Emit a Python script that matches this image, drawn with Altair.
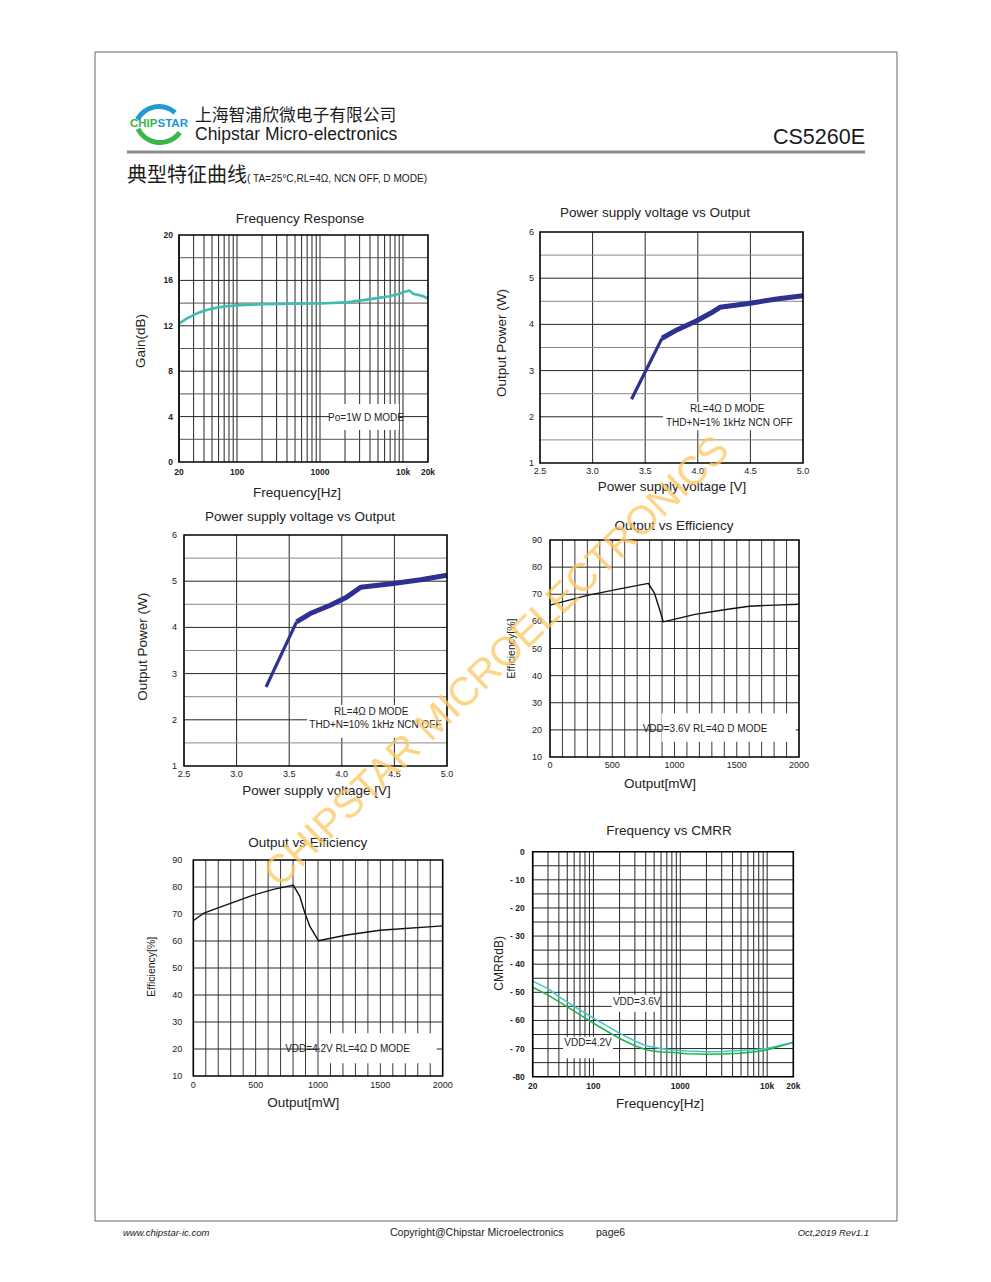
import altair as alt
import pandas as pd

M = 8  # page margin: page pixel -> chart pixel

# ---------------- data ----------------
# Frequency response (Po=1W D MODE)
fr_freq = [20, 25, 33, 43, 57, 75, 100, 200, 500, 1000, 2000, 3340, 4870, 6860, 8850, 10000, 12000, 13400, 15400, 17500, 20000]
fr_gain = [12.2, 12.65, 13.1, 13.4, 13.6, 13.72, 13.8, 13.9, 13.95, 13.97, 14.06, 14.26, 14.44, 14.6, 14.8, 14.95, 15.1, 14.8, 14.72, 14.6, 14.4]

# Power supply voltage vs output, THD+N=1%
psv1_v = [3.37, 3.66, 3.80, 3.99, 4.12, 4.21, 4.50, 4.75, 5.0]
psv1_p = [2.38, 3.70, 3.88, 4.08, 4.24, 4.37, 4.46, 4.55, 4.62]

# Power supply voltage vs output, THD+N=10%
psv10_v = [3.28, 3.57, 3.70, 3.89, 4.05, 4.18, 4.49, 4.75, 5.0]
psv10_p = [2.71, 4.12, 4.30, 4.48, 4.66, 4.87, 4.95, 5.03, 5.13]

# Output vs efficiency, VDD=3.6V
eff36_mw = [0, 300, 560, 790, 840, 880, 910, 1165, 1400, 1600, 1800, 2000]
eff36_pct = [66.0, 69.6, 72.0, 74.0, 70.3, 64.5, 59.8, 62.6, 64.3, 65.6, 66.0, 66.3]

# Output vs efficiency, VDD=4.2V
eff42_mw = [0, 80, 187, 481, 642, 802, 855, 896, 936, 1003, 1230, 1497, 2000]
eff42_pct = [67.5, 70.2, 72.1, 77.0, 79.1, 80.7, 76.4, 70.2, 65.3, 60.1, 62.2, 64.0, 65.6]

# Frequency vs CMRR
cmrr_freq = [20, 30, 40, 64, 100, 150, 200, 300, 411, 600, 829, 1200, 2000, 3000, 4850, 7000, 9880, 15000, 20000]
cmrr_36 = [-46.0, -48.7, -51.5, -55.5, -59.2, -62.3, -64.6, -67.3, -69.1, -70.0, -70.5, -70.9, -71.1, -71.0, -70.7, -70.4, -70.0, -68.7, -67.8]
cmrr_42 = [-48.2, -51.0, -53.3, -57.2, -61.0, -64.2, -66.4, -69.0, -70.5, -71.2, -71.4, -71.8, -72.0, -71.9, -71.7, -71.2, -70.5, -68.9, -67.8]

# grids and tick labels
log_grid = [20, 30, 40, 50, 60, 70, 80, 90, 100, 200, 300, 400, 500, 600, 700, 800, 900,
            1000, 2000, 3000, 4000, 5000, 6000, 7000, 8000, 9000, 10000]
log_ticks = [20, 100, 1000, 10000, 20000]
log_labels = ["20", "100", "1000", "10k", "20k"]

gain_major = [4, 8, 12, 16]
gain_minor = [2, 6, 10, 14, 18]
gain_ticks = [0, 4, 8, 12, 16, 20]

volt_grid = [3.0, 3.5, 4.0, 4.5]
volt_ticks = [2.5, 3.0, 3.5, 4.0, 4.5, 5.0]
volt_labels = ["2.5", "3.0", "3.5", "4.0", "4.5", "5.0"]
pow_major = [2, 3, 4, 5]
pow_minor = [1.5, 2.5, 3.5, 4.5, 5.5]
pow_ticks = [1, 2, 3, 4, 5, 6]

mw_grid = list(range(100, 2000, 100))
mw_ticks = [0, 500, 1000, 1500, 2000]
eff_grid = [20, 30, 40, 50, 60, 70, 80]
eff_ticks = [10, 20, 30, 40, 50, 60, 70, 80, 90]

cmrr_grid = [-5, -10, -15, -20, -25, -30, -35, -40, -45, -50, -55, -60, -65, -70, -75]
cmrr_ticks = [0, -10, -20, -30, -40, -50, -60, -70, -80]
cmrr_labels = ["0", "- 10", "- 20", "- 30", "- 40", "- 50", "- 60", "- 70", "-80"]

SANS = "Liberation Sans"
CJK = "Noto Sans CJK SC"


def scl(kind, dom, rng):
    kw = dict(type=kind, domain=dom, range=[rng[0] - M, rng[1] - M], nice=False)
    if kind != "log":
        kw["zero"] = False
    return alt.Scale(**kw)


def build_panel(c):
    xs = scl(c["xtype"], c["xdom"], c["px"])
    ys = scl("linear", c["ydom"], c["py"])

    def X(f):
        return alt.X(f, type="quantitative", scale=xs, axis=None)

    def Y(f):
        return alt.Y(f, type="quantitative", scale=ys, axis=None)

    x0, x1 = c["xdom"]
    y0, y1 = c["ydom"]
    layers = []
    for vals, color in c["vgrid"]:
        df = pd.DataFrame({"gx": vals, "ga": y0, "gb": y1})
        layers.append(alt.Chart(df).mark_rule(color=color, strokeWidth=1).encode(
            x=X("gx"), y=Y("ga"), y2=alt.Y2("gb")))
    for vals, color in c["hgrid"]:
        df = pd.DataFrame({"gy": vals, "ga": x0, "gb": x1})
        layers.append(alt.Chart(df).mark_rule(color=color, strokeWidth=1).encode(
            y=Y("gy"), x=X("ga"), x2=alt.X2("gb")))
    for (bx0, bx1, by0, by1) in c["boxes"]:
        df = pd.DataFrame({"bx0": [bx0], "bx1": [bx1], "by0": [by0], "by1": [by1]})
        layers.append(alt.Chart(df).mark_rect(color="white").encode(
            x=X("bx0"), x2=alt.X2("bx1"), y=Y("by0"), y2=alt.Y2("by1")))
    for (sx, sy, color, width) in c["series"]:
        df = pd.DataFrame({"sx": sx, "sy": sy})
        layers.append(alt.Chart(df).mark_line(color=color, strokeWidth=width,
                                              strokeJoin="round", strokeCap="butt").encode(
            x=X("sx"), y=Y("sy"), order=alt.Order("sx:Q")))
    fdf = pd.DataFrame({"fx0": [x0], "fx1": [x1], "fy0": [y0], "fy1": [y1]})
    layers.append(alt.Chart(fdf).mark_rect(filled=False, color="black", strokeWidth=1.6).encode(
        x=X("fx0"), x2=alt.X2("fx1"), y=Y("fy0"), y2=alt.Y2("fy1")))

    tk = c["tick"]
    xdf = pd.DataFrame({"tx": c["xticks"], "ty": y0, "tl": c["xlabels"]})
    layers.append(alt.Chart(xdf).mark_text(
        font=SANS, fontSize=tk["size"], fontWeight=tk["weight"], color="#222",
        align="center", baseline="middle", dy=tk["dy"]).encode(
        x=X("tx"), y=Y("ty"), text="tl:N"))
    ydf = pd.DataFrame({"tx": x0, "ty": c["yticks"], "tl": c["ylabels"]})
    layers.append(alt.Chart(ydf).mark_text(
        font=SANS, fontSize=tk["size"], fontWeight=tk["weight"], color="#222",
        align="right", baseline="middle", dx=tk["dx"]).encode(
        x=X("tx"), y=Y("ty"), text="tl:N"))

    for (tx, ty, tl) in c["notes"]:
        ndf = pd.DataFrame({"tx": [tx], "ty": [ty], "tl": [tl]})
        layers.append(alt.Chart(ndf).mark_text(
            font=SANS, fontSize=10, color="#222", align="center", baseline="middle").encode(
            x=X("tx"), y=Y("ty"), text="tl:N"))

    xmid = (x0 * x1) ** 0.5 if c["xtype"] == "log" else (x0 + x1) / 2
    ymid = (y0 + y1) / 2
    t, tdx, tdy = c["title"]
    layers.append(alt.Chart(pd.DataFrame({"tx": [xmid], "ty": [y1], "tl": [t]})).mark_text(
        font=SANS, fontSize=13.5, color="#222", align="center", baseline="middle",
        dx=tdx, dy=tdy).encode(x=X("tx"), y=Y("ty"), text="tl:N"))
    t, tdx, tdy = c["xtitle"]
    layers.append(alt.Chart(pd.DataFrame({"tx": [xmid], "ty": [y0], "tl": [t]})).mark_text(
        font=SANS, fontSize=13.5, color="#222", align="center", baseline="middle",
        dx=tdx, dy=tdy).encode(x=X("tx"), y=Y("ty"), text="tl:N"))
    t, left, up, fs = c["ytitle"]
    layers.append(alt.Chart(pd.DataFrame({"tx": [x0], "ty": [ymid], "tl": [t]})).mark_text(
        font=SANS, fontSize=fs, color="#222", align="center", baseline="middle",
        angle=270, dx=up, dy=-left).encode(x=X("tx"), y=Y("ty"), text="tl:N"))
    return alt.layer(*layers)


BLK = "#262626"
GRY = "#8a8a8a"
BLUE = "#2e3192"

panels = [
    dict(  # Frequency response
        xtype="log", xdom=[20, 20000], ydom=[0, 20], px=(179, 428), py=(462, 235),
        vgrid=[(log_grid, BLK)], hgrid=[(gain_major, BLK), (gain_minor, "#555")],
        boxes=[(1284, 8950, 2.82, 5.11)],
        series=[(fr_freq, fr_gain, "#3dbdb5", 2.6)],
        xticks=log_ticks, xlabels=log_labels,
        yticks=gain_ticks, ylabels=[str(v) for v in gain_ticks],
        tick=dict(size=8.5, weight="bold", dy=10, dx=-6),
        notes=[(3580, 3.88, "Po=1W D MODE")],
        title=("Frequency Response", -3.5, -16),
        xtitle=("Frequency[Hz]", -6.5, 31),
        ytitle=("Gain(dB)", 38, 7.5, 13.5),
    ),
    dict(  # PSV vs output 1%
        xtype="linear", xdom=[2.5, 5.0], ydom=[1, 6], px=(540, 803), py=(463, 232),
        vgrid=[(volt_grid, BLK)], hgrid=[(pow_major, BLK), (pow_minor, GRY)],
        boxes=[(3.67, 5.0, 1.71, 2.32)],
        series=[(psv1_v[:2], psv1_p[:2], BLUE, 3.2), (psv1_v[1:], psv1_p[1:], BLUE, 5)],
        xticks=volt_ticks, xlabels=volt_labels,
        yticks=pow_ticks, ylabels=[str(v) for v in pow_ticks],
        tick=dict(size=9, weight="normal", dy=8, dx=-6),
        notes=[(4.28, 2.17, "RL=4Ω D MODE"), (4.30, 1.87, "THD+N=1%  1kHz NCN OFF")],
        title=("Power supply voltage vs Output", -16.5, -19),
        xtitle=("Power supply voltage [V]", 0.5, 24),
        ytitle=("Output Power (W)", 38.3, 4.5, 13.5),
    ),
    dict(  # PSV vs output 10%
        xtype="linear", xdom=[2.5, 5.0], ydom=[1, 6], px=(184, 447), py=(766, 535),
        vgrid=[(volt_grid, BLK)], hgrid=[(pow_major, BLK), (pow_minor, GRY)],
        boxes=[(3.67, 5.0, 1.61, 2.32)],
        series=[(psv10_v[:2], psv10_p[:2], BLUE, 3.2), (psv10_v[1:], psv10_p[1:], BLUE, 5)],
        xticks=volt_ticks, xlabels=volt_labels,
        yticks=pow_ticks, ylabels=[str(v) for v in pow_ticks],
        tick=dict(size=9, weight="normal", dy=8, dx=-7),
        notes=[(4.28, 2.17, "RL=4Ω D MODE"), (4.32, 1.89, "THD+N=10%  1kHz NCN OFF")],
        title=("Power supply voltage vs Output", -15.5, -18.3),
        xtitle=("Power supply voltage [V]", 1, 25),
        ytitle=("Output Power (W)", 40.7, 3.8, 13.5),
    ),
    dict(  # Output vs efficiency 3.6V
        xtype="linear", xdom=[0, 2000], ydom=[10, 90], px=(550, 799), py=(757, 540),
        vgrid=[(mw_grid, "#3a3a3a")], hgrid=[(eff_grid, BLK)],
        boxes=[(897, 1974, 15.6, 26.1)],
        series=[(eff36_mw, eff36_pct, "#111", 1.4)],
        xticks=mw_ticks, xlabels=[str(v) for v in mw_ticks],
        yticks=eff_ticks, ylabels=[str(v) for v in eff_ticks],
        tick=dict(size=9, weight="normal", dy=8, dx=-8),
        notes=[(1245, 20.3, "VDD=3.6V RL=4Ω D MODE")],
        title=("Output vs Efficiency", -0.5, -14.3),
        xtitle=("Output[mW]", -14.5, 27.3),
        ytitle=("Efficiency[%]", 37.7, 0, 10.5),
    ),
    dict(  # Output vs efficiency 4.2V
        xtype="linear", xdom=[0, 2000], ydom=[10, 90], px=(193.3, 442.7), py=(1076, 860),
        vgrid=[(mw_grid, "#3a3a3a")], hgrid=[(eff_grid, BLK)],
        boxes=[(1016, 1952, 14.7, 25.8)],
        series=[(eff42_mw, eff42_pct, "#111", 1.4)],
        xticks=mw_ticks, xlabels=[str(v) for v in mw_ticks],
        yticks=eff_ticks, ylabels=[str(v) for v in eff_ticks],
        tick=dict(size=9, weight="normal", dy=9, dx=-11),
        notes=[(1237, 20, "VDD=4.2V RL=4Ω D MODE")],
        title=("Output vs Efficiency", -10.3, -16.7),
        xtitle=("Output[mW]", -14.7, 26.7),
        ytitle=("Efficiency[%]", 41.6, 1.3, 10.5),
    ),
    dict(  # Frequency vs CMRR
        xtype="log", xdom=[20, 20000], ydom=[-80, 0], px=(532.7, 793.3), py=(1076.7, 851.7),
        vgrid=[(log_grid, BLK)], hgrid=[(cmrr_grid, BLK)],
        boxes=[(162, 584, -56.9, -50.9), (44.7, 168, -73.4, -65.8)],
        series=[(cmrr_freq, cmrr_36, "#45c4c8", 1.5), (cmrr_freq, cmrr_42, "#1db44e", 1.5)],
        xticks=log_ticks, xlabels=log_labels,
        yticks=cmrr_ticks, ylabels=cmrr_labels,
        tick=dict(size=8.5, weight="bold", dy=9, dx=-8),
        notes=[(315, -53.5, "VDD=3.6V"), (86.7, -67.9, "VDD=4.2V")],
        title=("Frequency vs CMRR", 6, -21),
        xtitle=("Frequency[Hz]", -3, 27.3),
        ytitle=("CMRRdB)", 33.4, 0.9, 12),
    ),
]

panel_layers = [build_panel(c) for c in panels]

one = pd.DataFrame({"k": [0]})


def label(text, x, y, size, font=SANS, color="#222", align="left", style="normal", weight="normal"):
    return alt.Chart(pd.DataFrame({"t": [text]})).mark_text(
        font=font, fontSize=size, color=color, align=align, baseline="middle",
        fontStyle=style, fontWeight=weight).encode(
        x=alt.value(x - M), y=alt.value(y - M), text="t:N")


deco = [
    alt.Chart(one).mark_rect(filled=False, color="#666", strokeWidth=1).encode(
        x=alt.value(95 - M), x2=alt.value(897 - M), y=alt.value(52 - M), y2=alt.value(1221 - M)),
    alt.Chart(one).mark_rule(color="#8c8c8c", strokeWidth=3).encode(
        x=alt.value(127 - M), x2=alt.value(865 - M), y=alt.value(152 - M)),
    alt.Chart(one).mark_arc(radius=27, radius2=22, theta=5.2, theta2=7.0, color="#1f9ad6").encode(
        x=alt.value(159 - M), y=alt.value(131 - M)),
    alt.Chart(one).mark_arc(radius=27, radius2=22, theta=2.2, theta2=4.25, color="#3db54a").encode(
        x=alt.value(160 - M), y=alt.value(118 - M)),
    label("CHIP", 130, 124, 11.5, color="#3cb04a", weight="bold"),
    label("STAR", 157.5, 124, 11.5, color="#1f95d3", weight="bold"),
    label("上海智浦欣微电子有限公司", 195, 115.5, 16.8, font=CJK, color="#1a1a1a"),
    label("Chipstar Micro-electronics", 195, 135, 17.5, color="#1a1a1a"),
    label("CS5260E", 865, 138, 21.5, color="#1a1a1a", align="right"),
    label("典型特征曲线", 127, 176, 20, font=CJK, color="#1a1a1a"),
    label("( TA=25°C,RL=4Ω, NCN OFF, D MODE)", 247, 179, 10.1, color="#1a1a1a"),
    label("www.chipstar-ic.com", 123, 1233, 9.5, style="italic"),
    label("Copyright@Chipstar Microelectronics", 390, 1233, 10.5),
    label("page6", 596, 1233, 10.5),
    label("Oct,2019  Rev1.1", 869, 1233, 9.5, align="right", style="italic"),
]

watermark = alt.Chart(pd.DataFrame({"t": ["CHIPSTAR MICROELECTRONICS"]})).mark_text(
    font=SANS, fontSize=40, color="#fcc860", opacity=0.75, angle=316,
    align="center", baseline="middle").encode(
    x=alt.value(497 - M), y=alt.value(662 - M), text="t:N")

chart = alt.layer(*deco, *panel_layers, watermark).resolve_scale(
    x="independent", y="independent"
).properties(
    width=975, height=1266, padding=0,
    autosize=alt.AutoSizeParams(type="none"),
).configure(background="white", view=alt.ViewConfig(stroke=None))

chart.save("out.html", embed_options={"renderer": "svg", "actions": False})
